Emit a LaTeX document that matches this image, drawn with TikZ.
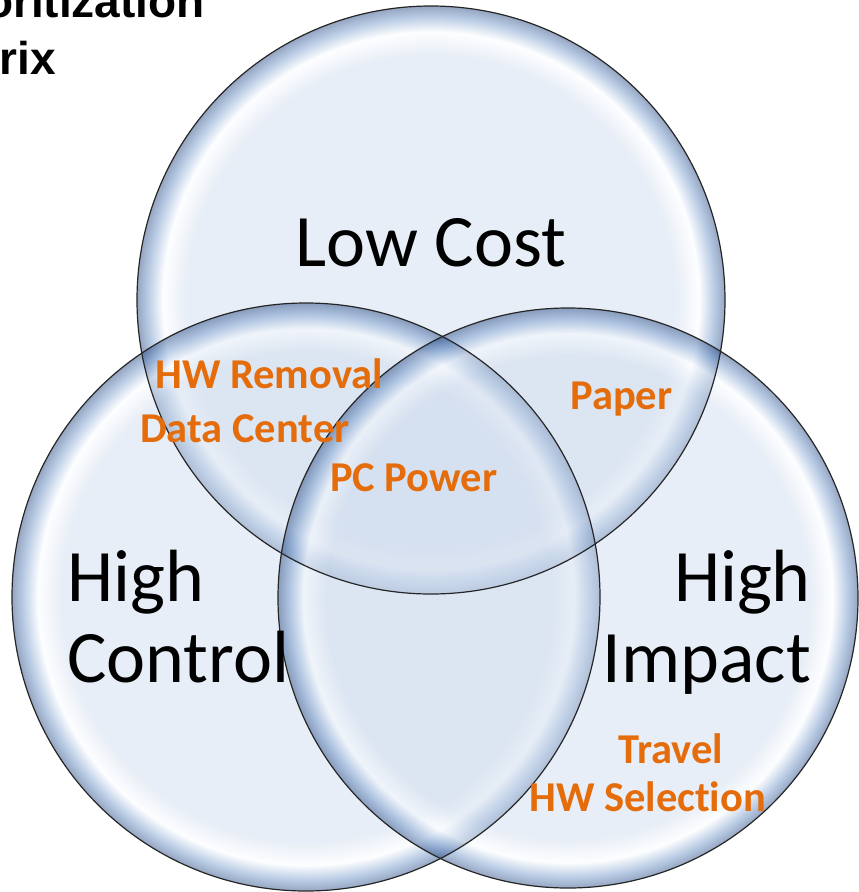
\documentclass[tikz,border=0pt]{standalone}
\usepackage{fontspec}
\setmainfont{Carlito}[Ligatures=NoCommon]
\newfontfamily\headfont{Liberation Sans}
\definecolor{vennorange}{RGB}{228,108,10}
\definecolor{bubin}{RGB}{206,219,237}
\definecolor{bublight}{RGB}{250,252,255}
\definecolor{bubmid}{RGB}{105,145,198}
\definecolor{bubedge}{RGB}{30,65,125}
\pgfdeclareradialshading{bubble}{\pgfpoint{0bp}{0bp}}{color(0bp)=(bubin); color(20.8bp)=(bubin); color(22.8bp)=(bublight); color(24.1bp)=(bubmid); color(25bp)=(bubedge); color(50bp)=(bubedge)}
\tikzset{
  bubblefill/.style={shading=bubble, fill opacity=0.47},
  rim/.style={draw=black!85, line width=1.2pt},
  big/.style={font=\fontsize{74}{81}\selectfont, inner sep=0pt},
  item/.style={font=\fontsize{42.5}{48}\selectfont\bfseries, text=vennorange, inner sep=0pt, anchor=base west},
  heading/.style={anchor=base east, inner sep=0pt, font=\headfont\bfseries\fontsize{46}{57}\selectfont},
}
\begin{document}
\begin{tikzpicture}[x=1pt,y=-1pt]
  \useasboundingbox (0,0) rectangle (859,892);
  \coordinate (ctop) at (431,300);
  \coordinate (cleft) at (306,597);
  \coordinate (cright) at (568,598);

  \shade[bubblefill] (ctop) circle (294);
  \shade[bubblefill] (cleft) circle (294);
  \shade[bubblefill] (cright) circle (290);
  \draw[rim] (ctop) circle (294);
  \draw[rim] (cleft) circle (294);
  \draw[rim] (cright) circle (290);

  \node[heading] (titleone) at (205,17) {Prioritization};
  \node[heading] (titletwo) at (56,74) {Matrix};

  \node[big, anchor=base west] (lowcost) at (295,266) {Low Cost};
  \node[big, anchor=base west, align=left] (highcontrol) at (67,682) {High\\Control};
  \node[big, anchor=base east, align=right] (highimpact) at (811,682) {High\\Impact};

  \node[item] (hwremoval) at (155,388) {HW Removal};
  \node[item] (datacenter) at (140,442) {Data Center};
  \node[item] (pcpower) at (330,491) {PC Power};
  \node[item] (paper) at (570,409) {Paper};
  \node[item] (travel) at (618,763) {Travel};
  \node[item] (hwselection) at (529,811) {HW Selection};
\end{tikzpicture}
\end{document}
